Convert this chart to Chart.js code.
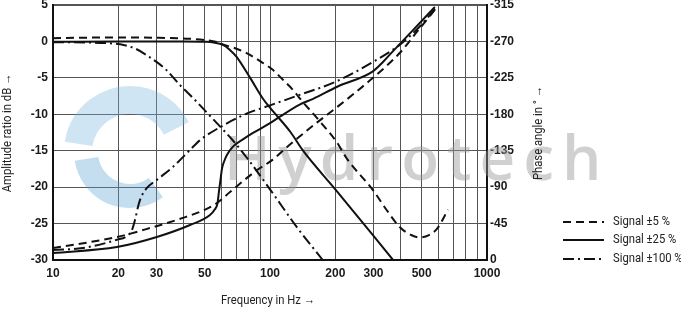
<!DOCTYPE html>
<html>
<head>
<meta charset="utf-8">
<script src="https://cdn.jsdelivr.net/npm/chart.js@4.4.1/dist/chart.umd.min.js"></script>
<style>
  html, body { margin: 0; padding: 0; background: #fff; }
  canvas { display: block; }
</style>
</head>
<body>
<canvas id="chart" width="681" height="309"></canvas>
<script>
// frequency grid + labels
const freqTicks = [10, 20, 30, 40, 50, 60, 70, 80, 90, 100, 200, 300, 400, 500, 600, 700, 800, 900, 1000]
const freqLabels = [10, 20, 30, 50, 100, 200, 300, 500, 1000]

// amplitude (dB), left axis
const ampF5 = [10, 20, 30, 40, 50, 57, 62, 70, 78, 90, 103, 115, 128, 137, 170, 204, 225, 298, 344, 397, 450, 491, 540, 589, 661]
const ampV5 = [0.45, 0.55, 0.5, 0.4, 0.2, -0.1, -0.5, -1.0, -1.6, -2.7, -3.9, -5.3, -6.7, -7.8, -11.0, -13.9, -16.0, -20.4, -23.1, -25.5, -26.6, -26.9, -26.6, -25.7, -23.1]
const ampF25 = [10, 20, 30, 40, 50, 55, 61, 65, 70, 81, 93, 100, 124, 142, 200, 300, 369]
const ampV25 = [-0.05, 0, 0, 0, -0.05, -0.15, -0.5, -1.1, -2.1, -5.0, -7.9, -9.1, -12.4, -15.0, -20.3, -26.7, -30]
const ampF100 = [10, 16.5, 20.4, 24, 28, 33, 38.5, 45, 51.3, 60.7, 67.5, 78.4, 100, 133, 175]
const ampV100 = [-0.1, -0.2, -0.4, -1.0, -2.2, -3.8, -6.0, -8.0, -9.8, -12.1, -13.6, -16.0, -20.3, -25.5, -30]

// phase angle (deg), right axis
const phF5 = [10, 19.7, 28, 39.7, 50, 57, 65.4, 87.1, 103, 124, 165, 204, 289, 397, 476, 589]
const phV5 = [-14.8, -28.4, -39.5, -52, -62, -70.4, -84, -111, -124, -143, -170, -189, -222, -256, -282, -312.5]
const phF25 = [10, 19.7, 30.1, 42.8, 52.9, 55.5, 57.3, 58.2, 59.2, 60.1, 61.5, 63.4, 67.5, 75, 83.5, 100, 111, 137, 158, 204, 298, 330, 369, 456, 575]
const phV25 = [-8.6, -16, -28.4, -43.2, -55.6, -62, -70, -85, -100, -113, -122, -130, -140, -149, -157, -169, -177, -192, -199, -214, -233, -244, -258, -284, -312.5]
const phF100 = [10, 13.7, 19.7, 21.9, 23.1, 24.0, 24.6, 25.5, 27.1, 30.1, 35.7, 42.8, 47.6, 58.8, 78.4, 100, 137, 200, 298, 397, 476, 589]
const phV100 = [-12.4, -14.8, -25, -29.6, -37, -52, -65, -78, -89, -99, -115, -136, -148, -164, -181, -191, -204, -220, -244.6, -266, -285, -313]

const legendLabels = ['Signal \u00b15 %', 'Signal \u00b125 %', 'Signal \u00b1100 %']
const dashes = [[8, 5], [], [11, 4, 2, 4]]

const toPoints = (f, v) => f.map((x, i) => ({x: x, y: v[i]}))

function series(f, v, axis, dash) {
  return {
    data: toPoints(f, v),
    yAxisID: axis,
    borderColor: '#111',
    borderWidth: 2,
    borderDash: dash,
    pointRadius: 0,
    fill: false,
    cubicInterpolationMode: 'monotone'
  }
}

const tickFont = {family: '"Liberation Sans", Arial, sans-serif', weight: 'bold', size: 12}

// condensed-looking text: Roboto squeezed a bit horizontally
function label(ctx, text, x, y, align, rot) {
  ctx.save()
  ctx.translate(x, y)
  if (rot) ctx.rotate(rot)
  ctx.scale(0.9, 1)
  ctx.font = '12.5px Roboto, sans-serif'
  ctx.fillStyle = '#222'
  ctx.textAlign = align
  ctx.textBaseline = 'middle'
  ctx.fillText(text, 0, 0)
  ctx.restore()
}

const decor = {
  id: 'decor',
  beforeDatasetsDraw(chart) {
    const ctx = chart.ctx
    ctx.save()
    // watermark swirl
    ctx.strokeStyle = 'rgba(120,180,220,0.35)'
    ctx.lineWidth = 28
    ctx.beginPath()
    ctx.arc(130, 152, 52, Math.PI * 1.05, Math.PI * 1.85)
    ctx.stroke()
    ctx.strokeStyle = 'rgba(90,160,210,0.35)'
    ctx.lineWidth = 24
    ctx.beginPath()
    ctx.arc(130, 152, 44, Math.PI * 0.3, Math.PI * 0.95)
    ctx.stroke()
    // watermark text
    ctx.fillStyle = 'rgba(150,150,150,0.45)'
    ctx.font = '600 62px "Open Sans", sans-serif'
    ctx.letterSpacing = '8px'
    ctx.textBaseline = 'alphabetic'
    ctx.fillText('Hydrotech', 224, 180)
    ctx.restore()
  },
  afterDraw(chart) {
    const ctx = chart.ctx
    label(ctx, 'Frequency in Hz \u2192', 268, 301, 'center', 0)
    label(ctx, 'Amplitude ratio in dB \u2192', 8, 133, 'center', -Math.PI / 2)
    label(ctx, 'Phase angle in \u00b0 \u2192', 539, 133, 'center', -Math.PI / 2)

    // legend
    const ys = [222, 240, 259]
    legendLabels.forEach((lab, i) => {
      ctx.save()
      ctx.strokeStyle = '#111'
      ctx.lineWidth = 2
      ctx.setLineDash(dashes[i])
      ctx.beginPath()
      ctx.moveTo(563, ys[i])
      ctx.lineTo(604, ys[i])
      ctx.stroke()
      ctx.restore()
      label(ctx, lab, 613, ys[i], 'left', 0)
    })
  }
}

const noPad = s => { s.paddingTop = 0; s.paddingBottom = 0 }

const config = {
  type: 'line',
  data: {
    datasets: [
      series(ampF5, ampV5, 'y', dashes[0]),
      series(ampF25, ampV25, 'y', dashes[1]),
      series(ampF100, ampV100, 'y', dashes[2]),
      series(phF5, phV5, 'y2', dashes[0]),
      series(phF25, phV25, 'y2', dashes[1]),
      series(phF100, phV100, 'y2', dashes[2])
    ]
  },
  options: {
    responsive: false,
    animation: false,
    devicePixelRatio: 1,
    layout: {padding: {top: 5}},
    plugins: {legend: {display: false}, tooltip: {enabled: false}},
    scales: {
      x: {
        type: 'logarithmic',
        min: 10,
        max: 1000,
        afterBuildTicks: s => { s.ticks = freqTicks.map(v => ({value: v})) },
        afterFit: s => { s.height = 49 },
        ticks: {
          autoSkip: false,
          maxRotation: 0,
          padding: 6,
          font: tickFont,
          color: '#1a1a1a',
          callback: v => freqLabels.includes(v) ? String(v) : ''
        },
        grid: {color: '#555', lineWidth: 1, tickLength: 0},
        border: {color: '#111', width: 2}
      },
      y: {
        position: 'left',
        min: -30,
        max: 5,
        afterFit: s => { s.width = 53; noPad(s) },
        ticks: {stepSize: 5, padding: 5, font: tickFont, color: '#1a1a1a'},
        grid: {color: '#555', lineWidth: c => c.tick && c.tick.value === 5 ? 2 : 1, tickLength: 0},
        border: {color: '#111', width: 2}
      },
      y2: {
        position: 'right',
        min: -315,
        max: 0,
        reverse: true,
        afterFit: s => { s.width = 194; noPad(s) },
        ticks: {stepSize: 45, padding: 3, font: tickFont, color: '#1a1a1a'},
        grid: {drawOnChartArea: false, tickLength: 0},
        border: {color: '#111', width: 2}
      }
    }
  },
  plugins: [decor]
}

new Chart(document.getElementById('chart'), config)
</script>
</body>
</html>
